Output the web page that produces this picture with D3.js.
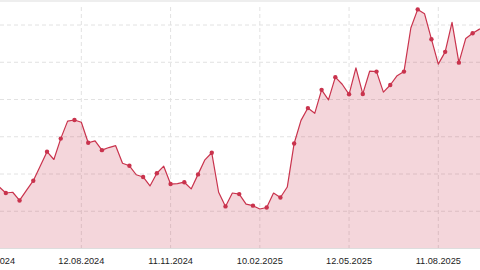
<!DOCTYPE html>
<html>
<head>
<meta charset="utf-8">
<script src="https://cdn.jsdelivr.net/npm/d3@7"></script>
<style>
  html, body { margin: 0; padding: 0; background: #fff; }
  svg { display: block; }
</style>
</head>
<body>
<div id="canvas"></div>
<script>
// weekly values, first week = 20.05.2024 (partly off the left edge)
const firstWeek = '2024-05-20';
const values = [
  16.6, 14.9, 15.1, 12.9, 15.6, 18.2, 22.1, 26.0, 23.9, 29.5, 34.2, 34.5,
  33.9, 28.4, 28.9, 26.4, 27.1, 27.6, 22.9, 22.2, 19.8, 19.2, 16.8, 20.2,
  22.1, 17.3, 17.4, 17.8, 16.0, 19.9, 23.8, 25.7, 15.1, 11.3, 14.9, 14.6,
  11.9, 11.5, 10.6, 11.0, 14.9, 13.7, 16.5, 28.2, 34.4, 37.7, 36.3, 42.6,
  39.9, 46.0, 44.1, 41.4, 48.5, 41.5, 47.6, 47.5, 42.0, 43.9, 46.4, 47.5,
  59.2, 64.2, 63.0, 56.2, 49.5, 52.8, 60.7, 49.9, 56.4, 57.8, 58.9, 59.7
];
// weeks that carry a dot marker
const marked = [
  0, 1, 0, 1, 0, 1, 0, 1, 0, 1, 0, 1,
  0, 1, 0, 1, 0, 0, 0, 1, 0, 1, 0, 1,
  0, 1, 0, 1, 0, 1, 0, 1, 0, 1, 0, 1,
  0, 1, 0, 1, 0, 1, 0, 1, 0, 1, 0, 1,
  0, 1, 0, 1, 0, 1, 0, 1, 0, 1, 0, 1,
  0, 1, 0, 1, 0, 1, 0, 1, 0, 1, 0, 0
];
const tickDates = ['2024-05-13', '2024-08-12', '2024-11-11', '2025-02-10', '2025-05-12', '2025-08-11'];
const gridValues = [10, 20, 30, 40, 50, 60];

const width = 480;
const height = 270;
const color = '#c9334d';

const parse = d3.utcParse('%Y-%m-%d');
const start = parse(firstWeek);
const data = values.map((v, i) => ({
  date: d3.utcDay.offset(start, i * 7),
  value: v,
  dot: marked[i] === 1
}));

const x = d3.scaleUtc()
  .domain([parse('2024-05-13'), parse('2025-08-11')])
  .range([-7.9, 438.3]);

const y = d3.scaleLinear()
  .domain([0, 65])
  .range([248.5, 6.4]);

const svg = d3.select('#canvas')
  .append('svg')
  .attr('width', width)
  .attr('height', height);

svg.append('rect')
  .attr('x', 0).attr('y', 0)
  .attr('width', width).attr('height', 2)
  .attr('fill', '#eeeeee');

// grid
svg.append('g')
  .selectAll('line')
  .data(gridValues)
  .join('line')
  .attr('x1', 0).attr('x2', width)
  .attr('y1', d => y(d)).attr('y2', d => y(d))
  .attr('stroke', '#e2e2e2')
  .attr('stroke-dasharray', '4,3');

svg.append('g')
  .selectAll('line')
  .data(tickDates.map(parse))
  .join('line')
  .attr('x1', d => x(d)).attr('x2', d => x(d))
  .attr('y1', 7).attr('y2', y(0))
  .attr('stroke', '#e2e2e2')
  .attr('stroke-dasharray', '4,3');

// area + line
const area = d3.area()
  .x(d => x(d.date))
  .y0(y(0))
  .y1(d => y(d.value));

const line = d3.line()
  .x(d => x(d.date))
  .y(d => y(d.value));

svg.append('path')
  .datum(data)
  .attr('d', area)
  .attr('fill', color)
  .attr('fill-opacity', 0.2);

svg.append('path')
  .datum(data)
  .attr('d', line)
  .attr('fill', 'none')
  .attr('stroke', color)
  .attr('stroke-width', 1.2)
  .attr('stroke-linejoin', 'round');

svg.append('g')
  .selectAll('circle')
  .data(data.filter(d => d.dot))
  .join('circle')
  .attr('cx', d => x(d.date))
  .attr('cy', d => y(d.value))
  .attr('r', 2.2)
  .attr('fill', color);

// x axis
svg.append('line')
  .attr('x1', 0).attr('x2', width)
  .attr('y1', y(0)).attr('y2', y(0))
  .attr('stroke', '#dddddd');

const fmt = d3.utcFormat('%d.%m.%Y');
svg.append('g')
  .selectAll('text')
  .data(tickDates.map(parse))
  .join('text')
  .attr('x', d => x(d))
  .attr('y', 264)
  .attr('text-anchor', 'middle')
  .attr('font-family', 'Liberation Sans, Arial, sans-serif')
  .attr('font-size', 9.2)
  .attr('fill', '#222')
  .text(d => fmt(d));
</script>
</body>
</html>
